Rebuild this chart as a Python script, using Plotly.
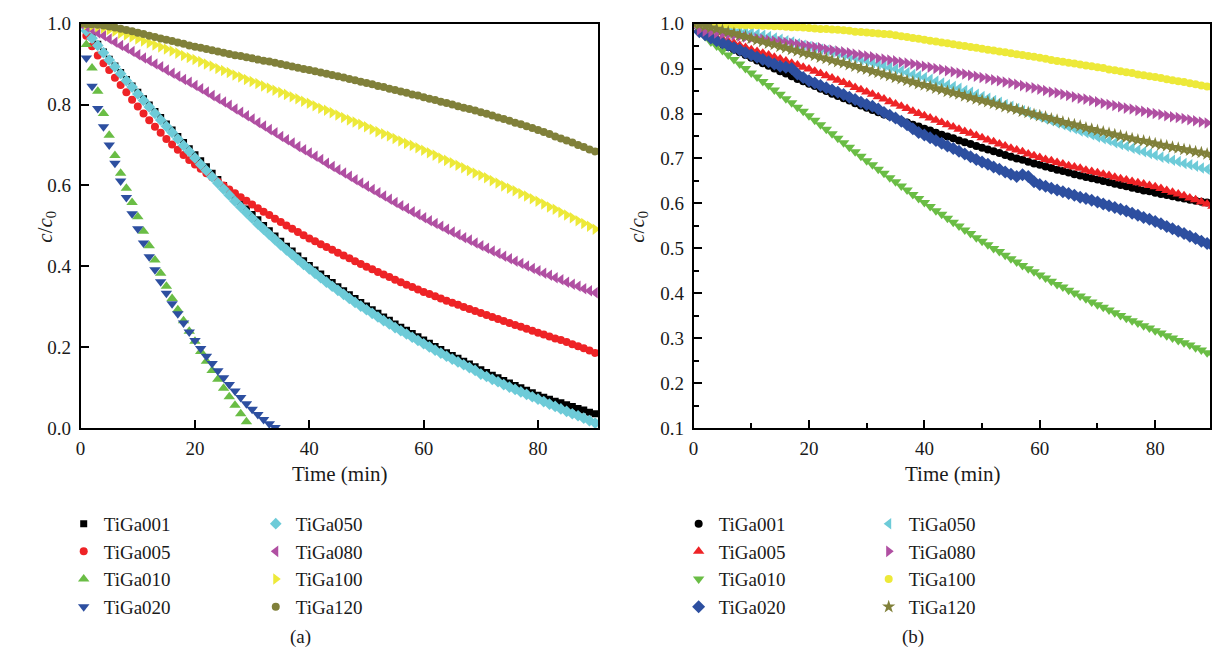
import plotly.graph_objects as go

# ---------------- data: panel (a) ----------------
time_a = list(range(0, 91))
a_tiga001 = [1.000, 0.984, 0.967, 0.949, 0.930, 0.912, 0.895, 0.879, 0.862, 0.846, 0.830, 0.814, 0.799, 0.783, 0.768, 0.752, 0.737, 0.721, 0.706, 0.691,
             0.676, 0.661, 0.646, 0.630, 0.615, 0.600, 0.585, 0.570, 0.556, 0.542, 0.528, 0.515, 0.501, 0.488, 0.475, 0.462, 0.450, 0.438, 0.426, 0.414,
             0.402, 0.391, 0.381, 0.370, 0.360, 0.350, 0.340, 0.330, 0.321, 0.311, 0.302, 0.293, 0.284, 0.275, 0.267, 0.258, 0.250, 0.242, 0.234, 0.226,
             0.218, 0.210, 0.202, 0.195, 0.187, 0.180, 0.173, 0.166, 0.159, 0.152, 0.145, 0.138, 0.131, 0.125, 0.118, 0.112, 0.106, 0.100, 0.094, 0.088,
             0.082, 0.077, 0.072, 0.067, 0.063, 0.058, 0.054, 0.049, 0.045, 0.040, 0.036]
a_tiga005 = [1.000, 0.970, 0.944, 0.921, 0.902, 0.885, 0.866, 0.848, 0.830, 0.812, 0.795, 0.778, 0.761, 0.745, 0.730, 0.715, 0.701, 0.688, 0.675, 0.663,
             0.652, 0.641, 0.630, 0.620, 0.610, 0.600, 0.590, 0.581, 0.571, 0.562, 0.553, 0.544, 0.535, 0.527, 0.518, 0.510, 0.501, 0.493, 0.485, 0.477,
             0.469, 0.462, 0.455, 0.448, 0.441, 0.434, 0.427, 0.420, 0.413, 0.406, 0.399, 0.393, 0.386, 0.380, 0.374, 0.367, 0.361, 0.355, 0.349, 0.343,
             0.337, 0.332, 0.326, 0.321, 0.315, 0.310, 0.305, 0.300, 0.295, 0.290, 0.285, 0.280, 0.275, 0.270, 0.265, 0.260, 0.255, 0.251, 0.246, 0.241,
             0.236, 0.232, 0.227, 0.222, 0.218, 0.213, 0.208, 0.203, 0.198, 0.192, 0.186]
time_a010 = list(range(0, 30))
a_tiga010 = [1.000, 0.948, 0.890, 0.833, 0.778, 0.724, 0.674, 0.630, 0.593, 0.558, 0.523, 0.487, 0.451, 0.416, 0.383, 0.351, 0.321, 0.293, 0.266, 0.240,
             0.215, 0.190, 0.166, 0.143, 0.121, 0.099, 0.078, 0.057, 0.036, 0.016]
time_a020 = list(range(0, 35))
a_tiga020 = [1.000, 0.915, 0.845, 0.790, 0.745, 0.700, 0.655, 0.611, 0.570, 0.530, 0.493, 0.458, 0.424, 0.392, 0.362, 0.334, 0.308, 0.283, 0.260, 0.238,
             0.217, 0.197, 0.178, 0.160, 0.142, 0.125, 0.108, 0.092, 0.076, 0.061, 0.047, 0.034, 0.022, 0.011, 0.002]
a_tiga050 = [1.000, 0.982, 0.964, 0.946, 0.928, 0.910, 0.893, 0.876, 0.859, 0.843, 0.826, 0.810, 0.794, 0.778, 0.762, 0.746, 0.731, 0.715, 0.699, 0.684,
             0.668, 0.652, 0.637, 0.621, 0.606, 0.591, 0.576, 0.561, 0.547, 0.533, 0.519, 0.505, 0.492, 0.479, 0.466, 0.453, 0.441, 0.429, 0.417, 0.405,
             0.394, 0.383, 0.372, 0.361, 0.351, 0.341, 0.331, 0.321, 0.311, 0.302, 0.293, 0.284, 0.275, 0.266, 0.258, 0.249, 0.241, 0.233, 0.225, 0.217,
             0.209, 0.201, 0.193, 0.186, 0.178, 0.171, 0.164, 0.157, 0.150, 0.143, 0.134, 0.128, 0.121, 0.115, 0.108, 0.102, 0.096, 0.090, 0.084, 0.078,
             0.072, 0.066, 0.060, 0.054, 0.048, 0.042, 0.036, 0.031, 0.025, 0.019, 0.013]
a_tiga080 = [1.000, 0.992, 0.985, 0.977, 0.970, 0.962, 0.954, 0.946, 0.939, 0.931, 0.923, 0.915, 0.908, 0.900, 0.893, 0.885, 0.877, 0.870, 0.862, 0.855,
             0.847, 0.839, 0.831, 0.822, 0.814, 0.806, 0.798, 0.789, 0.781, 0.772, 0.764, 0.755, 0.747, 0.738, 0.730, 0.721, 0.713, 0.705, 0.696, 0.688,
             0.680, 0.672, 0.664, 0.655, 0.647, 0.639, 0.631, 0.623, 0.614, 0.606, 0.598, 0.590, 0.582, 0.574, 0.566, 0.558, 0.550, 0.543, 0.535, 0.528,
             0.520, 0.513, 0.506, 0.499, 0.492, 0.485, 0.478, 0.471, 0.465, 0.458, 0.451, 0.445, 0.438, 0.432, 0.425, 0.419, 0.413, 0.407, 0.401, 0.395,
             0.389, 0.383, 0.378, 0.372, 0.367, 0.361, 0.356, 0.351, 0.345, 0.340, 0.335]
a_tiga100 = [1.000, 0.998, 0.995, 0.992, 0.989, 0.985, 0.981, 0.976, 0.972, 0.967, 0.962, 0.957, 0.952, 0.947, 0.942, 0.937, 0.932, 0.927, 0.921, 0.916,
             0.911, 0.906, 0.900, 0.895, 0.889, 0.884, 0.879, 0.873, 0.868, 0.862, 0.857, 0.852, 0.846, 0.841, 0.835, 0.830, 0.825, 0.819, 0.814, 0.808,
             0.803, 0.797, 0.791, 0.786, 0.780, 0.774, 0.768, 0.762, 0.757, 0.751, 0.745, 0.739, 0.733, 0.728, 0.722, 0.716, 0.710, 0.704, 0.699, 0.693,
             0.687, 0.681, 0.675, 0.668, 0.662, 0.656, 0.650, 0.644, 0.637, 0.631, 0.625, 0.619, 0.612, 0.606, 0.599, 0.593, 0.587, 0.580, 0.574, 0.567,
             0.561, 0.554, 0.547, 0.541, 0.534, 0.527, 0.520, 0.513, 0.506, 0.499, 0.492]
a_tiga120 = [1.000, 0.999, 0.998, 0.997, 0.995, 0.993, 0.990, 0.987, 0.984, 0.981, 0.977, 0.974, 0.970, 0.967, 0.963, 0.960, 0.957, 0.953, 0.950, 0.946,
             0.943, 0.940, 0.937, 0.934, 0.931, 0.928, 0.925, 0.922, 0.920, 0.917, 0.914, 0.911, 0.908, 0.906, 0.903, 0.900, 0.897, 0.894, 0.891, 0.888,
             0.885, 0.882, 0.879, 0.876, 0.873, 0.870, 0.867, 0.863, 0.860, 0.856, 0.853, 0.850, 0.846, 0.843, 0.839, 0.836, 0.832, 0.829, 0.825, 0.822,
             0.818, 0.814, 0.811, 0.807, 0.804, 0.800, 0.796, 0.792, 0.789, 0.785, 0.781, 0.777, 0.773, 0.768, 0.764, 0.760, 0.755, 0.751, 0.746, 0.742,
             0.737, 0.732, 0.727, 0.721, 0.716, 0.711, 0.706, 0.700, 0.695, 0.689, 0.684]

# ---------------- data: panel (b) ----------------
time_b = list(range(0, 91))
b_tiga001 = [1.000, 0.984, 0.975, 0.967, 0.960, 0.954, 0.948, 0.942, 0.936, 0.930, 0.924, 0.918, 0.912, 0.906, 0.900, 0.894, 0.889, 0.883, 0.877, 0.872,
             0.866, 0.861, 0.855, 0.850, 0.844, 0.839, 0.834, 0.829, 0.823, 0.818, 0.813, 0.808, 0.803, 0.798, 0.794, 0.789, 0.784, 0.780, 0.775, 0.771,
             0.766, 0.762, 0.757, 0.753, 0.749, 0.745, 0.740, 0.736, 0.732, 0.728, 0.724, 0.720, 0.716, 0.712, 0.708, 0.704, 0.700, 0.697, 0.693, 0.689,
             0.686, 0.682, 0.679, 0.675, 0.672, 0.669, 0.665, 0.662, 0.659, 0.656, 0.653, 0.650, 0.647, 0.644, 0.641, 0.638, 0.635, 0.632, 0.629, 0.627,
             0.624, 0.621, 0.619, 0.616, 0.613, 0.611, 0.608, 0.606, 0.604, 0.602, 0.600]
b_tiga005 = [1.000, 0.988, 0.980, 0.974, 0.969, 0.965, 0.960, 0.956, 0.951, 0.947, 0.942, 0.938, 0.934, 0.930, 0.925, 0.921, 0.917, 0.912, 0.908, 0.903,
             0.899, 0.894, 0.889, 0.884, 0.879, 0.874, 0.869, 0.864, 0.858, 0.853, 0.848, 0.843, 0.837, 0.832, 0.826, 0.821, 0.816, 0.811, 0.805, 0.800,
             0.795, 0.790, 0.785, 0.780, 0.775, 0.770, 0.765, 0.760, 0.756, 0.751, 0.746, 0.741, 0.737, 0.732, 0.728, 0.723, 0.719, 0.715, 0.710, 0.706,
             0.702, 0.698, 0.695, 0.691, 0.688, 0.684, 0.681, 0.678, 0.674, 0.671, 0.668, 0.665, 0.662, 0.658, 0.655, 0.652, 0.649, 0.646, 0.643, 0.640,
             0.637, 0.633, 0.629, 0.625, 0.621, 0.617, 0.612, 0.608, 0.603, 0.599, 0.594]
b_tiga010 = [1.000, 0.985, 0.971, 0.959, 0.950, 0.940, 0.930, 0.920, 0.910, 0.900, 0.890, 0.881, 0.871, 0.862, 0.852, 0.843, 0.833, 0.824, 0.814, 0.805,
             0.795, 0.785, 0.775, 0.765, 0.755, 0.745, 0.735, 0.725, 0.715, 0.705, 0.695, 0.686, 0.676, 0.667, 0.657, 0.648, 0.639, 0.630, 0.620, 0.611,
             0.602, 0.593, 0.584, 0.576, 0.567, 0.558, 0.550, 0.541, 0.533, 0.524, 0.516, 0.508, 0.500, 0.493, 0.485, 0.477, 0.470, 0.462, 0.455, 0.448,
             0.441, 0.434, 0.427, 0.420, 0.414, 0.407, 0.401, 0.394, 0.388, 0.381, 0.375, 0.369, 0.363, 0.357, 0.351, 0.345, 0.339, 0.334, 0.328, 0.323,
             0.317, 0.312, 0.306, 0.301, 0.295, 0.290, 0.285, 0.279, 0.274, 0.268, 0.263]
b_tiga020 = [1.000, 0.982, 0.975, 0.968, 0.962, 0.957, 0.952, 0.946, 0.941, 0.935, 0.930, 0.925, 0.920, 0.915, 0.910, 0.905, 0.903, 0.900, 0.888, 0.880,
             0.873, 0.868, 0.862, 0.857, 0.852, 0.847, 0.842, 0.836, 0.831, 0.825, 0.820, 0.816, 0.810, 0.802, 0.796, 0.790, 0.783, 0.775, 0.766, 0.758,
             0.752, 0.746, 0.740, 0.734, 0.728, 0.722, 0.716, 0.710, 0.704, 0.698, 0.692, 0.687, 0.681, 0.676, 0.670, 0.665, 0.660, 0.664, 0.660, 0.648,
             0.642, 0.638, 0.634, 0.630, 0.626, 0.622, 0.618, 0.614, 0.611, 0.607, 0.603, 0.599, 0.595, 0.591, 0.587, 0.583, 0.578, 0.574, 0.569, 0.565,
             0.560, 0.555, 0.549, 0.544, 0.538, 0.533, 0.527, 0.522, 0.516, 0.511, 0.505]
b_tiga050 = [1.000, 0.998, 0.996, 0.994, 0.992, 0.990, 0.988, 0.986, 0.984, 0.982, 0.980, 0.977, 0.974, 0.971, 0.968, 0.965, 0.962, 0.959, 0.955, 0.952,
             0.949, 0.946, 0.943, 0.940, 0.937, 0.934, 0.930, 0.927, 0.924, 0.920, 0.917, 0.913, 0.910, 0.906, 0.902, 0.899, 0.895, 0.891, 0.887, 0.884,
             0.880, 0.876, 0.872, 0.868, 0.864, 0.860, 0.856, 0.851, 0.847, 0.843, 0.838, 0.834, 0.829, 0.825, 0.820, 0.816, 0.811, 0.806, 0.802, 0.797,
             0.793, 0.788, 0.784, 0.779, 0.775, 0.770, 0.766, 0.761, 0.757, 0.753, 0.748, 0.744, 0.740, 0.735, 0.731, 0.727, 0.723, 0.719, 0.715, 0.711,
             0.707, 0.703, 0.700, 0.696, 0.693, 0.689, 0.686, 0.683, 0.679, 0.676, 0.673]
b_tiga080 = [0.995, 0.986, 0.983, 0.981, 0.979, 0.977, 0.975, 0.974, 0.972, 0.970, 0.968, 0.967, 0.965, 0.963, 0.961, 0.960, 0.958, 0.956, 0.954, 0.952,
             0.950, 0.948, 0.946, 0.943, 0.941, 0.939, 0.937, 0.935, 0.932, 0.930, 0.928, 0.926, 0.923, 0.921, 0.919, 0.917, 0.914, 0.912, 0.910, 0.907,
             0.905, 0.903, 0.900, 0.898, 0.895, 0.893, 0.890, 0.888, 0.885, 0.883, 0.880, 0.878, 0.875, 0.873, 0.870, 0.868, 0.865, 0.862, 0.859, 0.857,
             0.854, 0.851, 0.848, 0.846, 0.843, 0.840, 0.837, 0.834, 0.832, 0.829, 0.826, 0.823, 0.820, 0.818, 0.815, 0.812, 0.810, 0.807, 0.805, 0.802,
             0.800, 0.798, 0.795, 0.793, 0.791, 0.789, 0.786, 0.784, 0.781, 0.779, 0.776]
b_tiga100 = [1.000, 1.000, 0.999, 0.999, 0.998, 0.998, 0.998, 0.997, 0.997, 0.996, 0.996, 0.996, 0.995, 0.995, 0.994, 0.994, 0.993, 0.992, 0.992, 0.991,
             0.990, 0.989, 0.988, 0.988, 0.987, 0.986, 0.985, 0.984, 0.982, 0.981, 0.980, 0.979, 0.978, 0.977, 0.976, 0.974, 0.972, 0.970, 0.968, 0.966,
             0.964, 0.962, 0.960, 0.958, 0.956, 0.954, 0.952, 0.950, 0.948, 0.946, 0.944, 0.942, 0.940, 0.938, 0.936, 0.934, 0.932, 0.930, 0.928, 0.926,
             0.924, 0.922, 0.919, 0.917, 0.915, 0.913, 0.911, 0.909, 0.907, 0.905, 0.903, 0.901, 0.898, 0.896, 0.894, 0.892, 0.890, 0.887, 0.885, 0.883,
             0.881, 0.879, 0.876, 0.874, 0.872, 0.870, 0.867, 0.865, 0.862, 0.860, 0.857]
b_tiga120 = [1.000, 0.997, 0.994, 0.991, 0.988, 0.985, 0.981, 0.978, 0.974, 0.971, 0.967, 0.963, 0.960, 0.956, 0.953, 0.949, 0.946, 0.942, 0.939, 0.935,
             0.932, 0.929, 0.925, 0.922, 0.918, 0.915, 0.912, 0.908, 0.905, 0.901, 0.898, 0.894, 0.891, 0.887, 0.884, 0.880, 0.877, 0.873, 0.870, 0.866,
             0.863, 0.860, 0.856, 0.853, 0.849, 0.846, 0.843, 0.839, 0.836, 0.832, 0.829, 0.826, 0.822, 0.819, 0.815, 0.812, 0.809, 0.805, 0.802, 0.798,
             0.795, 0.792, 0.788, 0.785, 0.781, 0.778, 0.775, 0.772, 0.768, 0.765, 0.762, 0.759, 0.756, 0.753, 0.750, 0.747, 0.744, 0.741, 0.739, 0.736,
             0.733, 0.730, 0.728, 0.725, 0.723, 0.720, 0.718, 0.715, 0.713, 0.710, 0.708]

names = ["TiGa001", "TiGa005", "TiGa010", "TiGa020", "TiGa050", "TiGa080", "TiGa100", "TiGa120"]
colors = ["#000000", "#EE2326", "#6ABD45", "#2D4FA0", "#6DCBD8", "#B04FA2", "#EDE939", "#80803A"]

W, H = 1212, 663
FONT = "Liberation Serif, Times New Roman, serif"

fig = go.Figure()

series_a = [
    (time_a, a_tiga001, "square", 7),
    (time_a, a_tiga005, "circle", 8),
    (time_a010, a_tiga010, "triangle-up", 10),
    (time_a020, a_tiga020, "triangle-down", 10),
    (time_a, a_tiga050, "diamond", 9),
    (time_a, a_tiga080, "triangle-left", 10),
    (time_a, a_tiga100, "triangle-right", 10),
    (time_a, a_tiga120, "circle", 8),
]
series_b = [
    (time_b, b_tiga001, "circle", 8),
    (time_b, b_tiga005, "triangle-up", 10),
    (time_b, b_tiga010, "triangle-down", 10),
    (time_b, b_tiga020, "diamond", 10),
    (time_b, b_tiga050, "triangle-left", 10),
    (time_b, b_tiga080, "triangle-right", 10),
    (time_b, b_tiga100, "circle", 8),
    (time_b, b_tiga120, "star", 10),
]

for i, (t, v, sym, sz) in enumerate(series_a):
    fig.add_trace(go.Scatter(
        x=t, y=v, mode="markers", name=names[i],
        marker=dict(symbol=sym, size=sz, color=colors[i], line=dict(width=0)),
        xaxis="x", yaxis="y",
        legend="legend" if i < 4 else "legend2",
    ))
for i, (t, v, sym, sz) in enumerate(series_b):
    fig.add_trace(go.Scatter(
        x=t, y=v, mode="markers", name=names[i],
        marker=dict(symbol=sym, size=sz, color=colors[i], line=dict(width=0)),
        xaxis="x2", yaxis="y2",
        legend="legend3" if i < 4 else "legend4",
    ))


def px_x(p):
    return p / W


def px_y(p):
    return 1 - p / H


ydom = [px_y(432), px_y(14)]
tickfont = dict(family=FONT, size=19, color="#1a1a1a")
common = dict(showline=True, linecolor="black", linewidth=1.5, mirror=True,
              showgrid=False, zeroline=False, ticks="inside", tickcolor="black",
              tickwidth=2, tickfont=tickfont)

legfont = dict(family=FONT, size=19, color="#1a1a1a")


def leg(xp, yp):
    return dict(x=px_x(xp), y=px_y(yp), xanchor="left", yanchor="top",
                font=legfont, bgcolor="rgba(0,0,0,0)", borderwidth=0,
                tracegroupgap=0, itemsizing="trace")


fig.update_layout(
    width=W, height=H,
    margin=dict(l=0, r=0, t=0, b=0),
    paper_bgcolor="white", plot_bgcolor="white",
    xaxis=dict(domain=[px_x(76), px_x(596)], range=[0, 90.5], dtick=20, tick0=0,
               ticklen=9, anchor="y", ticklabelstandoff=2, **common),
    yaxis=dict(domain=ydom, range=[0, 1], dtick=0.2, tick0=0, tickformat=".1f",
               ticklen=9, anchor="x", ticklabelstandoff=4, **common),
    xaxis2=dict(domain=[px_x(692), px_x(1211)], range=[0, 89.5], dtick=20, tick0=0,
                ticklen=9, anchor="y2", ticklabelstandoff=2,
                minor=dict(dtick=10, ticks="inside", ticklen=6, tickwidth=2, tickcolor="black"),
                **common),
    yaxis2=dict(domain=ydom, range=[0.1, 1.0], dtick=0.1, tick0=0.1, tickformat=".1f",
                ticklen=9, anchor="x2", ticklabelstandoff=4,
                minor=dict(dtick=0.05, ticks="inside", ticklen=6, tickwidth=2, tickcolor="black"),
                **common),
    legend=leg(59, 511),
    legend2=leg(252, 511),
    legend3=leg(677, 511),
    legend4=leg(868, 511),
    showlegend=True,
)

ann_font = dict(family=FONT, size=21, color="#1a1a1a")
annotations = [
    dict(text="Time (min)", x=px_x(336), y=px_y(479), xref="paper", yref="paper",
         showarrow=False, font=ann_font, xanchor="center", yanchor="middle"),
    dict(text="Time (min)", x=px_x(952), y=px_y(479), xref="paper", yref="paper",
         showarrow=False, font=ann_font, xanchor="center", yanchor="middle"),
    dict(text="<i>c</i>/<i>c</i><sub>0</sub>", x=px_x(41), y=px_y(224), xref="paper", yref="paper",
         showarrow=False, font=ann_font, textangle=-90, xanchor="center", yanchor="middle"),
    dict(text="<i>c</i>/<i>c</i><sub>0</sub>", x=px_x(636), y=px_y(224), xref="paper", yref="paper",
         showarrow=False, font=ann_font, textangle=-90, xanchor="center", yanchor="middle"),
    dict(text="(a)", x=px_x(297), y=px_y(647), xref="paper", yref="paper",
         showarrow=False, font=dict(family=FONT, size=19, color="#1a1a1a"), xanchor="center", yanchor="middle"),
    dict(text="(b)", x=px_x(913), y=px_y(647), xref="paper", yref="paper",
         showarrow=False, font=dict(family=FONT, size=19, color="#1a1a1a"), xanchor="center", yanchor="middle"),
]
fig.update_layout(annotations=annotations)

fig.write_html("out.html")
